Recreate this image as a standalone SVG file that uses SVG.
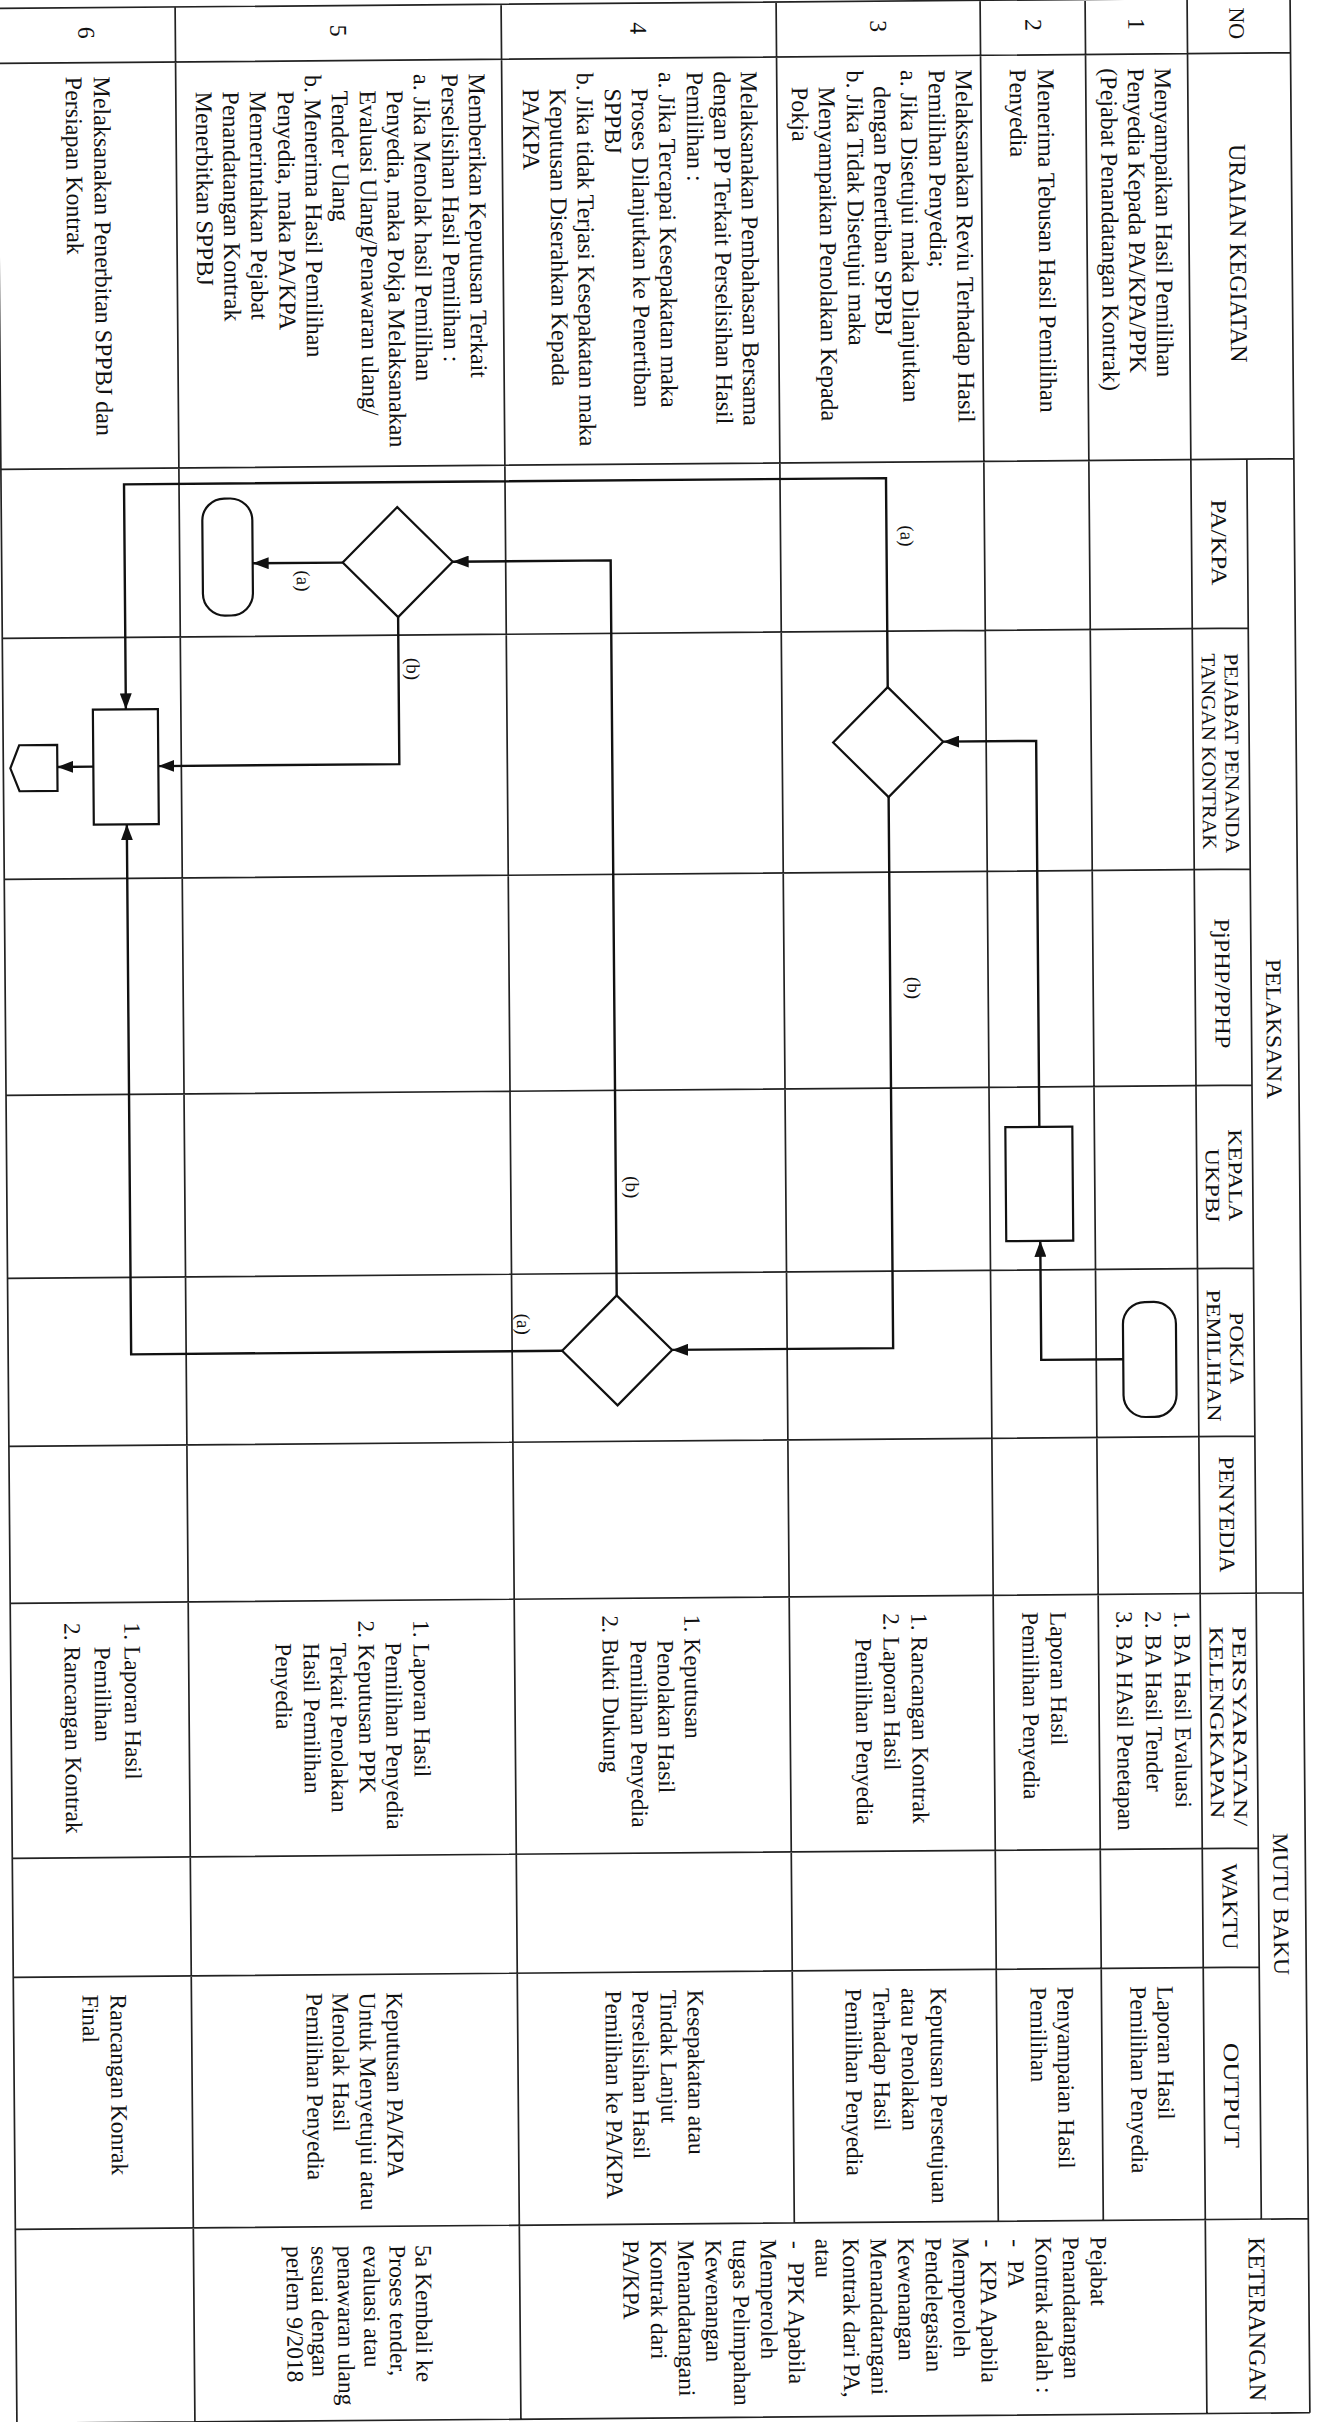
<svg xmlns="http://www.w3.org/2000/svg" width="1320" height="2422" viewBox="0 0 1320 2422">
<style>
.g{stroke:#222;stroke-width:1.7;fill:none}
.f{stroke:#111;stroke-width:2.4;fill:none}
.s{stroke:#111;stroke-width:2.2;fill:#fff}
text{font-family:"Liberation Serif","Times New Roman",serif;fill:#111}
.u{font-size:24px}
.m{font-size:23.5px}
.h{font-size:22px}
.hs{font-size:20px}
.c{text-anchor:middle}
.lb{font-size:19px;text-anchor:middle}
</style>
<defs>
<marker id="ar" markerUnits="userSpaceOnUse" markerWidth="16" markerHeight="12" refX="16" refY="6" orient="auto">
<path d="M0,0 L16,6 L0,12 z" fill="#111"/>
</marker>
</defs>
<rect width="1320" height="2422" fill="#fff"/>
<g transform="rotate(-0.47 660 1211)">
<g transform="translate(1320,0) rotate(90)">

<g id="grid">
<path class="g" d="M3,20H2418 M464,67H2224 M3,123H2418 M3,225H2224 M3,330H2224 M3,534H2224 M3,809H2418 M3,1135H2418 M3,1313H2418
M3,20V1313 M58,20V1313 M464,20V1313 M633,67V1313 M874,67V1313 M1090,67V1313 M1273,67V1313 M1441,67V1313 M1598,20V1313 M1853,67V1313 M1972,67V1313 M2224,20V1313 M2418,20V1313"/>
</g>

<g id="header">
<text class="h c" x="28" y="81">NO</text>
<text class="u c" x="258" y="82">URAIAN KEGIATAN</text>
<text class="h c" x="1034" y="52" textLength="140" lengthAdjust="spacingAndGlyphs">PELAKSANA</text>
<text class="h c" x="1909" y="52" textLength="142" lengthAdjust="spacingAndGlyphs">MUTU BAKU</text>
<text class="u c" x="2324" y="80">KETERANGAN</text>
<text class="h c" x="547" y="103" textLength="86" lengthAdjust="spacingAndGlyphs">PA/KPA</text>
<text class="hs c" x="758" y="91" textLength="200" lengthAdjust="spacingAndGlyphs">PEJABAT PENANDA</text>
<text class="hs c" x="756" y="114" textLength="196" lengthAdjust="spacingAndGlyphs">TANGAN KONTRAK</text>
<text class="h c" x="988" y="103" textLength="130" lengthAdjust="spacingAndGlyphs">PjPHP/PPHP</text>
<text class="hs c" x="1180" y="91" textLength="92" lengthAdjust="spacingAndGlyphs">KEPALA</text>
<text class="hs c" x="1190" y="114" textLength="74" lengthAdjust="spacingAndGlyphs">UKPBJ</text>
<text class="hs c" x="1353" y="91" textLength="72" lengthAdjust="spacingAndGlyphs">POKJA</text>
<text class="hs c" x="1360" y="114" textLength="132" lengthAdjust="spacingAndGlyphs">PEMILIHAN</text>
<text class="h c" x="1519" y="103" textLength="116" lengthAdjust="spacingAndGlyphs">PENYEDIA</text>
<text class="hs c" x="1731" y="91" textLength="200" lengthAdjust="spacingAndGlyphs">PERSYARATAN/</text>
<text class="hs c" x="1727" y="114" textLength="192" lengthAdjust="spacingAndGlyphs">KELENGKAPAN</text>
<text class="h c" x="1911" y="103" textLength="86" lengthAdjust="spacingAndGlyphs">WAKTU</text>
<text class="h c" x="2100" y="103" textLength="105" lengthAdjust="spacingAndGlyphs">OUTPUT</text>
</g>

<g id="no">
<text class="u c" x="28" y="182">1</text>
<text class="u c" x="28" y="285">2</text>
<text class="u c" x="28" y="440">3</text>
<text class="u c" x="28" y="680">4</text>
<text class="u c" x="28" y="980">5</text>
<text class="u c" x="28" y="1232">6</text>
</g>

<g id="uraian" class="u">
<text x="72" y="156">Menyampaikan Hasil Pemilihan</text>
<text x="72" y="183">Penyedia Kepada PA/KPA/PPK</text>
<text x="72" y="210">(Pejabat Penandatangan Kontrak)</text>
<text x="72" y="273">Menerima Tebusan Hasil Pemilihan</text>
<text x="72" y="301">Penyedia</text>
<text x="72" y="355">Melaksanakan Reviu Terhadap Hasil</text>
<text x="72" y="382">Pemilihan Penyedia;</text>
<text x="72" y="410">a. Jika Disetujui maka Dilanjutkan</text>
<text x="88" y="437">dengan Penertiban SPPBJ</text>
<text x="72" y="464">b. Jika Tidak Disetujui maka</text>
<text x="88" y="492">Menyampaikan Penolakan Kepada</text>
<text x="88" y="519">Pokja</text>
<text x="72" y="570">Melaksanakan Pembahasan Bersama</text>
<text x="72" y="597">dengan PP Terkait Perselisihan Hasil</text>
<text x="72" y="624">Pemilihan :</text>
<text x="72" y="652">a. Jika Tercapai Kesepakatan maka</text>
<text x="88" y="679">Proses Dilanjutkan ke Penertiban</text>
<text x="88" y="706">SPPBJ</text>
<text x="72" y="734">b. Jika tidak Terjasi Kesepakatan maka</text>
<text x="88" y="761">Keputusan Diserahkan Kepada</text>
<text x="88" y="788">PA/KPA</text>
<text x="72" y="842">Memberikan Keputusan Terkait</text>
<text x="72" y="869">Perselisihan Hasil Pemilihan :</text>
<text x="72" y="897">a. Jika Menolak hasil Pemilihan</text>
<text x="88" y="924">Penyedia, maka Pokja Melaksanakan</text>
<text x="88" y="951">Evaluasi Ulang/Penawaran ulang/</text>
<text x="88" y="979">Tender Ulang</text>
<text x="72" y="1006">b. Menerima Hasil Pemilihan</text>
<text x="88" y="1033">Penyedia, maka PA/KPA</text>
<text x="88" y="1061">Memerintahkan Pejabat</text>
<text x="88" y="1088">Penandatangan Kontrak</text>
<text x="88" y="1115">Menerbitkan SPPBJ</text>
<text x="72" y="1217">Melaksanakan Penerbitan SPPBJ dan</text>
<text x="72" y="1245">Persiapan Kontrak</text>
</g>

<g id="persyaratan" class="m">
<text x="1615" y="149">1. BA Hasil Evaluasi</text>
<text x="1615" y="178">2. BA Hasil Tender</text>
<text x="1615" y="207">3. BA HAsil Penetapan</text>
<text x="1615" y="273">Laporan Hasil</text>
<text x="1615" y="301">Pemilihan Penyedia</text>
<text x="1615" y="412">1. Rancangan Kontrak</text>
<text x="1615" y="440">2. Laporan Hasil</text>
<text x="1640" y="468">Pemilihan Penyedia</text>
<text x="1615" y="639">1. Keputusan</text>
<text x="1640" y="666">Penolakan Hasil</text>
<text x="1640" y="693">Pemilihan Penyedia</text>
<text x="1615" y="721">2. Bukti Dukung</text>
<text x="1618" y="910">1. Laporan Hasil</text>
<text x="1640" y="938">Pemilihan Penyedia</text>
<text x="1618" y="965">2. Keputusan PPK</text>
<text x="1640" y="993">Terkait Penolakan</text>
<text x="1640" y="1020">Hasil Pemilihan</text>
<text x="1640" y="1048">Penyedia</text>
<text x="1618" y="1199">1. Laporan Hasil</text>
<text x="1642" y="1229">Pemilihan</text>
<text x="1618" y="1259">2. Rancangan Kontrak</text>
</g>

<g id="output" class="m">
<text x="1990" y="169">Laporan Hasil</text>
<text x="1990" y="196">Pemilihan Penyedia</text>
<text x="1990" y="269">Penyampaian Hasil</text>
<text x="1990" y="296">Pemilihan</text>
<text x="1990" y="396">Keputusan Persetujuan</text>
<text x="1990" y="425">atau Penolakan</text>
<text x="1990" y="453">Terhadap Hasil</text>
<text x="1990" y="481">Pemilihan Penyedia</text>
<text x="1990" y="639">Kesepakatan atau</text>
<text x="1990" y="666">Tindak Lanjut</text>
<text x="1990" y="694">Perselisihan Hasil</text>
<text x="1990" y="721">Pemilihan ke PA/KPA</text>
<text x="1990" y="940">Keputusan PA/KPA</text>
<text x="1990" y="967">Untuk Menyetujui atau</text>
<text x="1990" y="994">Menolak Hasil</text>
<text x="1990" y="1020">Pemilihan Penyedia</text>
<text x="1990" y="1216">Rancangan Konrak</text>
<text x="1990" y="1244">Final</text>
</g>

<g id="keterangan" class="m">
<text x="2240" y="238">Pejabat</text>
<text x="2240" y="265.5">Penandatangan</text>
<text x="2240" y="293">Kontrak adalah :</text>
<text x="2242" y="320.5">-<tspan x="2263">PA</tspan></text>
<text x="2242" y="348">-<tspan x="2263">KPA Apabila</tspan></text>
<text x="2240" y="375.5">Memperoleh</text>
<text x="2240" y="403">Pendelegasian</text>
<text x="2240" y="430.5">Kewenangan</text>
<text x="2240" y="458">Menandatangani</text>
<text x="2240" y="485.5">Kontrak dari PA,</text>
<text x="2240" y="513">atau</text>
<text x="2242" y="540.5">-<tspan x="2263">PPK Apabila</tspan></text>
<text x="2240" y="568">Memperoleh</text>
<text x="2240" y="595.5">tugas Pelimpahan</text>
<text x="2240" y="623">Kewenangan</text>
<text x="2240" y="650.5">Menandatangani</text>
<text x="2240" y="678">Kontrak dari</text>
<text x="2240" y="705.5">PA/KPA</text>
<text x="2243" y="913">5a Kembali ke</text>
<text x="2243" y="939">Proses tender,</text>
<text x="2243" y="965">evaluasi atau</text>
<text x="2243" y="991">penawaran ulang</text>
<text x="2243" y="1017">sesuai dengan</text>
<text x="2243" y="1042">perlem 9/2018</text>
</g>

<g id="connectors">
<path class="f" marker-end="url(#ar)" d="M1363,198 V280 H1244"/>
<path class="f" marker-end="url(#ar)" d="M1130,280 H744 V373"/>
<path class="f" marker-end="url(#ar)" d="M689,428 H480 V1190 H705"/>
<path class="f" marker-end="url(#ar)" d="M799,428 H1350 V649"/>
<path class="f" marker-end="url(#ar)" d="M1295,704 H560 V862"/>
<path class="f" marker-end="url(#ar)" d="M1350,759 V1190 H820"/>
<path class="f" marker-end="url(#ar)" d="M560,972 V1062"/>
<path class="f" marker-end="url(#ar)" d="M615,917 H762 V1158"/>
<path class="f" marker-end="url(#ar)" d="M762,1223 V1259"/>
<text class="lb" x="538" y="414">(a)</text>
<text class="lb" x="990" y="411">(b)</text>
<text class="lb" x="1187" y="694">(b)</text>
<text class="lb" x="1323" y="804">(a)</text>
<text class="lb" x="578" y="1018">(a)</text>
<text class="lb" x="667" y="909">(b)</text>
</g>

<g id="start-pokja"><rect class="s" x="1306" y="145" width="115" height="53" rx="22"/></g>
<g id="proses-ukpbj"><rect class="s" x="1130" y="247" width="114" height="67"/></g>
<g id="keputusan-ppk"><polygon class="s" points="689,428 744,373 799,428 744,483"/></g>
<g id="keputusan-pokja"><polygon class="s" points="1295,704 1350,649 1405,704 1350,759"/></g>
<g id="keputusan-pakpa"><polygon class="s" points="505,917 560,862 615,917 560,972"/></g>
<g id="end-pakpa"><rect class="s" x="495" y="1062" width="117" height="50" rx="22"/></g>
<g id="sppbj-ppk"><rect class="s" x="705" y="1158" width="115" height="65"/></g>
<g id="offpage"><polygon class="s" points="740,1259 786,1259 786,1297 763,1306 740,1297"/></g>

</g>
</g>
</svg>
